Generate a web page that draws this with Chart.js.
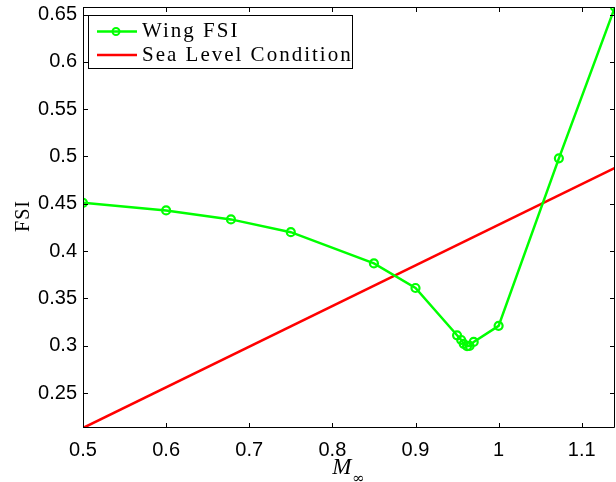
<!DOCTYPE html>
<html>
<head>
<meta charset="utf-8">
<script src="https://cdn.jsdelivr.net/npm/chart.js@4/dist/chart.umd.min.js"></script>
<style>
html,body{margin:0;padding:0;background:#fff;overflow:hidden;}
canvas{display:block;}
</style>
</head>
<body>
<canvas id="c" width="616" height="482" style="width:616px;height:482px"></canvas>
<script>
// Data
const machWing = [0.5, 0.6, 0.678, 0.75, 0.85, 0.9, 0.95, 0.955, 0.958, 0.962, 0.965, 0.97, 1.0, 1.0725, 1.14];
const fsiWing  = [0.451, 0.443, 0.4335, 0.420, 0.387, 0.361, 0.311, 0.306, 0.302, 0.2995, 0.2998, 0.304, 0.321, 0.498, 0.658];
const machSea  = [0.5, 1.14];
const fsiSea   = [0.213, 0.488];
const xTicks = [0.5, 0.6, 0.7, 0.8, 0.9, 1.0, 1.1];
const yTicks = [0.25, 0.3, 0.35, 0.4, 0.45, 0.5, 0.55, 0.6, 0.65];
const seriesNames = ['Wing FSI', 'Sea Level Condition'];

const toXY = (xs, ys) => xs.map((x, i) => ({x: x, y: ys[i]}));

const framePlugin = {
  id: 'frame',
  afterDraw(chart) {
    const ctx = chart.ctx;
    const a = chart.chartArea;
    const xs = chart.scales.x, ys = chart.scales.y;
    ctx.save();
    ctx.strokeStyle = '#000';
    ctx.lineWidth = 1;
    ctx.beginPath();
    ctx.rect(a.left + 0.5, a.top + 0.5, a.right - a.left - 1, a.bottom - a.top - 1);
    ctx.stroke();
    const tl = 5;
    ctx.beginPath();
    xs.ticks.forEach(t => {
      const p = Math.round(xs.getPixelForValue(t.value)) + 0.5;
      ctx.moveTo(p, a.bottom); ctx.lineTo(p, a.bottom - tl);
      ctx.moveTo(p, a.top); ctx.lineTo(p, a.top + tl);
    });
    ys.ticks.forEach(t => {
      const p = Math.round(ys.getPixelForValue(t.value)) + 0.5;
      ctx.moveTo(a.left, p); ctx.lineTo(a.left + tl, p);
      ctx.moveTo(a.right, p); ctx.lineTo(a.right - tl, p);
    });
    ctx.stroke();

    // axis titles
    ctx.fillStyle = '#000';
    ctx.textBaseline = 'alphabetic';
    // x title: M with subscript infinity
    const cx = (a.left + a.right) / 2;
    ctx.font = 'italic 23px "Liberation Serif"';
    const mW = ctx.measureText('M').width;
    ctx.font = '15px "DejaVu Serif"';
    const iW = ctx.measureText('\u221E').width;
    const startX = cx - (mW + iW) / 2 - 1;
    ctx.font = 'italic 23px "Liberation Serif"';
    ctx.textAlign = 'left';
    ctx.fillText('M', startX, 474);
    ctx.font = '15px "DejaVu Serif"';
    ctx.fillText('\u221E', startX + mW + 1, 483);

    // y title
    ctx.save();
    ctx.translate(29, 216);
    ctx.rotate(-Math.PI / 2);
    ctx.font = '20px "Liberation Serif"';
    ctx.textAlign = 'center';
    ctx.letterSpacing = '1px';
    ctx.fillText('FSI', 0, 0);
    ctx.restore();

    // legend
    const lx = 88, ly = 15, lw = 264, lh = 53;
    ctx.fillStyle = '#fff';
    ctx.fillRect(lx, ly, lw, lh);
    ctx.strokeStyle = '#000';
    ctx.lineWidth = 1;
    ctx.strokeRect(lx + 0.5, ly + 0.5, lw, lh);
    const rows = [31.5, 55];
    chart.data.datasets.forEach((ds, i) => {
      const yy = rows[i];
      ctx.strokeStyle = ds.borderColor;
      ctx.lineWidth = ds.borderWidth;
      ctx.beginPath();
      ctx.moveTo(97, yy); ctx.lineTo(137, yy);
      ctx.stroke();
      if (ds.pointRadius > 0) {
        ctx.lineWidth = 2;
        ctx.beginPath();
        ctx.arc(116, yy, 3.5, 0, Math.PI * 2);
        ctx.stroke();
      }
      ctx.fillStyle = '#000';
      ctx.font = '21px "Liberation Serif"';
      ctx.letterSpacing = '2px';
      ctx.textAlign = 'left';
      ctx.textBaseline = 'middle';
      ctx.fillText(seriesNames[i], 142, yy);
      ctx.letterSpacing = '0px';
    });
    ctx.restore();
  }
};

new Chart(document.getElementById('c'), {
  type: 'scatter',
  data: {
    datasets: [
      {
        label: seriesNames[0],
        data: toXY(machWing, fsiWing),
        showLine: true,
        borderColor: '#00ff00',
        backgroundColor: 'rgba(0,0,0,0)',
        borderWidth: 2.5,
        pointRadius: 4,
        pointBorderWidth: 2.2,
        pointBorderColor: '#00ff00',
        pointBackgroundColor: 'rgba(0,0,0,0)',
        tension: 0
      },
      {
        label: seriesNames[1],
        data: toXY(machSea, fsiSea),
        showLine: true,
        borderColor: '#ff0000',
        backgroundColor: 'rgba(0,0,0,0)',
        borderWidth: 2.5,
        pointRadius: 0,
        tension: 0
      }
    ]
  },
  options: {
    responsive: false,
    maintainAspectRatio: false,
    animation: false,
    layout: { autoPadding: false, padding: { top: 7, right: 1, left: 0, bottom: 0 } },
    plugins: { legend: { display: false }, tooltip: { enabled: false } },
    scales: {
      x: {
        type: 'linear',
        min: 0.5, max: 1.14,
        grid: { display: false, drawTicks: false },
        border: { display: false },
        afterBuildTicks: s => { s.ticks = xTicks.map(v => ({value: v})); },
        afterFit: s => { s.height = 54; s.paddingLeft = 0; s.paddingRight = 0; },
        ticks: {
          color: '#000',
          font: { family: '"Liberation Sans", Arial', size: 20 },
          padding: 10,
          maxRotation: 0,
          callback: v => String(Math.round(v * 10) / 10)
        }
      },
      y: {
        type: 'linear',
        min: 0.213, max: 0.658,
        grid: { display: false, drawTicks: false },
        border: { display: false },
        afterBuildTicks: s => { s.ticks = yTicks.map(v => ({value: v})); },
        afterFit: s => { s.width = 83; s.paddingTop = 0; s.paddingBottom = 0; },
        ticks: {
          color: '#000',
          font: { family: '"Liberation Sans", Arial', size: 20 },
          padding: 6,
          callback: v => String(Math.round(v * 100) / 100)
        }
      }
    }
  },
  plugins: [framePlugin]
});
</script>
</body>
</html>
